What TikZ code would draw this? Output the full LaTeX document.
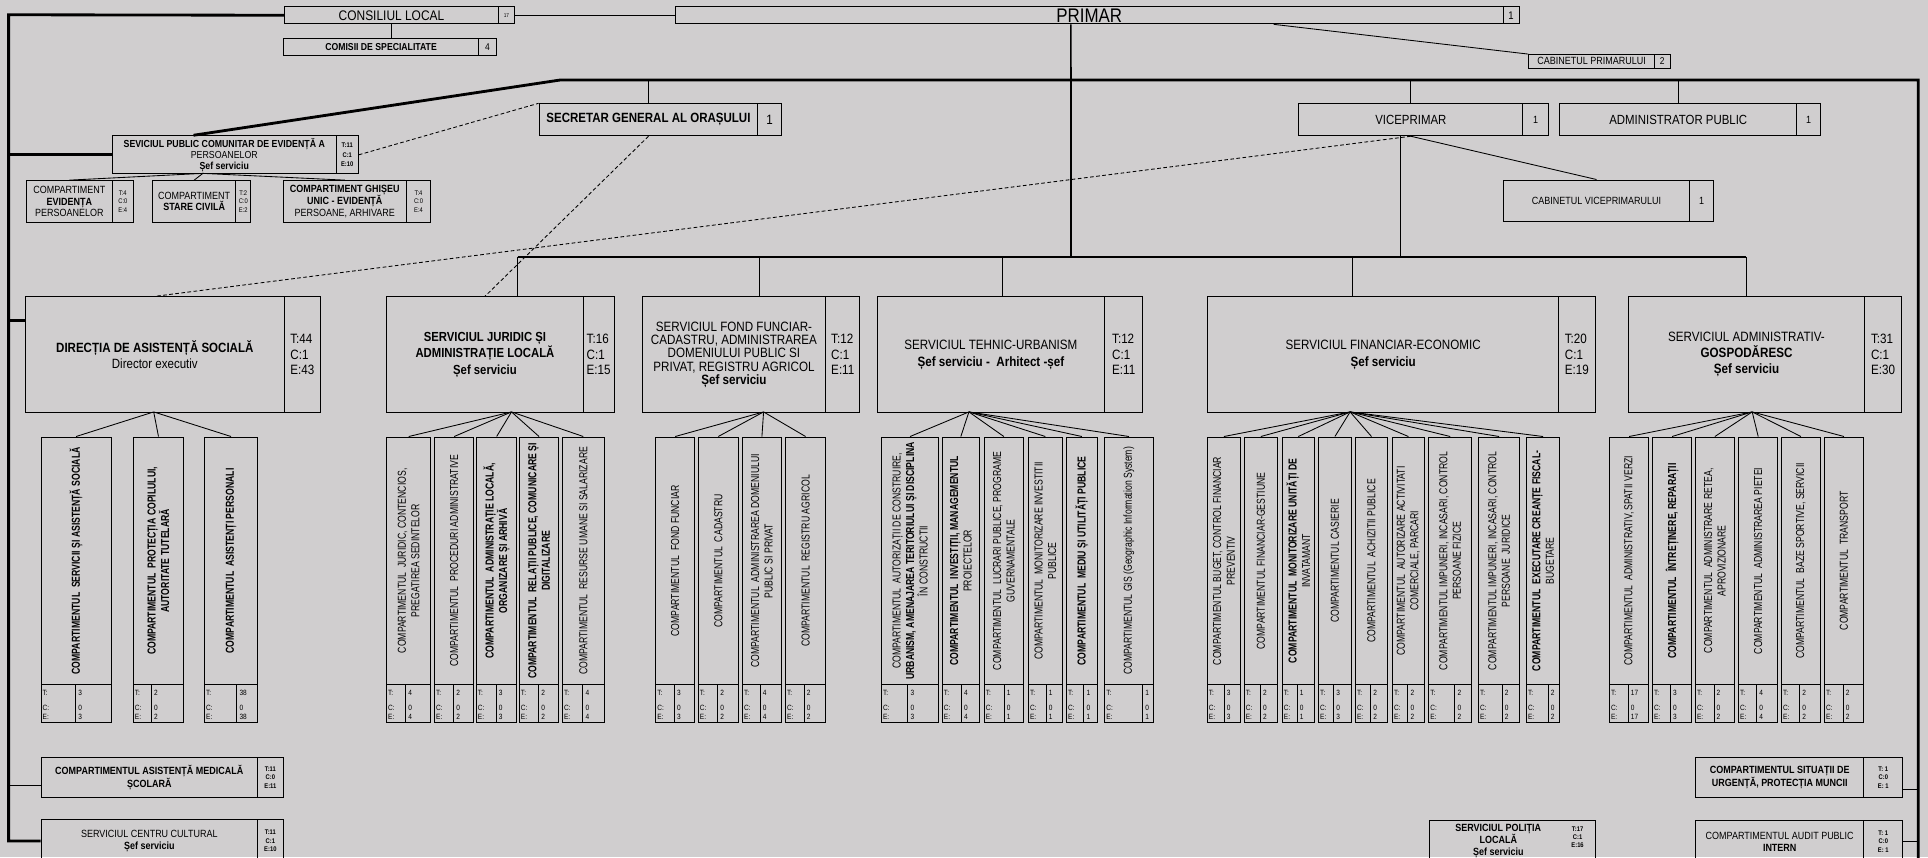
\documentclass[tikz,border=0pt]{standalone}
\usepackage{fontspec}
\setmainfont{Liberation Sans}[FakeStretch=0.86]
\newfontfamily\vnarrow{Liberation Sans}[FakeStretch=0.75]
\usetikzlibrary{calc}

\newcommand{\setsz}[2]{\fontsize{#1}{#2}\selectfont}
\definecolor{sheet}{RGB}{208,206,207}

\tikzset{
  box/.style={draw, line width=0.8pt, inner sep=0pt, anchor=north west},
  comp/.style={draw, line width=0.8pt, inner sep=0pt, anchor=north west, minimum height=201.5},
  cell/.style={draw, line width=0.8pt, inner sep=0pt, anchor=north west, minimum height=30.5},
  vtext/.style={rotate=90, align=center, inner sep=0pt, font=\vnarrow\setsz{9.4}{11}},
  tce/.style={anchor=west, inner sep=0pt, font=\setsz{6.2}{6.5}},
  link/.style={line width=0.7pt},
  heavy/.style={line width=2.3pt},
  bus/.style={line width=1.8pt},
  dashlink/.style={line width=0.7pt, dash pattern=on 3pt off 2pt},
}

% one vertical compartment: name, left, right, divider, count, text, fan point
\newcommand{\compcol}[7]{%
  \node[comp, minimum width={#3-#2}] (#1) at (#2,355) {};
  \node[vtext] (#1t) at (#1) {#6};
  \node[cell, minimum width={#3-#2}] (#1b) at (#2,556.5) {};
  \pgfmathsetmacro{\dvx}{#2+#4*(#3-#2)}
  \draw[link] (\dvx,556.5) -- (\dvx,587);
  \node[tce] (#1T) at (#2+1.5,563.5) {T:};
  \node[tce] (#1C) at (#2+1.5,575.5) {C:};
  \node[tce] (#1E) at (#2+1.5,583.2) {E:};
  \node[tce] (#1Tv) at (\dvx+2,563.5) {#5};
  \node[tce] (#1Cv) at (\dvx+2,575.5) {0};
  \node[tce] (#1Ev) at (\dvx+2,583.2) {#5};
  \draw[link] (#7) -- (#1.north);
}

\begin{document}
\begin{tikzpicture}[x=1pt, y=-1pt]
        \fill[sheet] (0,0) rectangle (1568,697);
        \useasboundingbox (0,0) rectangle (1568,697);

        % Top row:
        \node[box, minimum width=174, minimum height=14, font=\setsz{11.3}{12}] (cl) at (231,5) {CONSILIUL LOCAL};
        \node[box, minimum width=13, minimum height=14, font=\setsz{4.5}{5}] (cln) at (405,5) {17};
        \node[box, minimum width=159, minimum height=14, font=\bfseries\setsz{8.2}{9}] (com) at (230,31) {COMISII DE SPECIALITATE};
        \node[box, minimum width=14, minimum height=14, font=\setsz{8}{9}] (comn) at (389,31) {4};
        \node[box, minimum width=673, minimum height=14, font=\setsz{16}{16}] (pr) at (549,5) {PRIMAR};
        \node[box, minimum width=13, minimum height=14, font=\setsz{9}{9}] (prn) at (1222,5) {1};
        \node[box, minimum width=102, minimum height=11, font=\setsz{8.5}{9}] (cp) at (1243,44) {CABINETUL PRIMARULUI};
        \node[box, minimum width=13, minimum height=11, font=\setsz{8}{9}] (cpn) at (1345,44) {2};

        % Second row:
        \node[box, minimum width=182, minimum height=31, align=center, font=\setsz{8.3}{9}] (sp) at (91,110) {\textbf{SEVICIUL PUBLIC COMUNITAR DE EVIDENȚĂ A}\\PERSOANELOR\\\textbf{Șef serviciu}};
        \node[box, minimum width=18, minimum height=31, align=center, font=\bfseries\setsz{5.5}{7.5}] (spn) at (273,110) {T:11\\C:1\\E:10};
        \node[box, minimum width=178, minimum height=26, font=\bfseries\setsz{10.9}{12}] (sec) at (438,84) {SECRETAR GENERAL AL ORAȘULUI};
        \node[box, minimum width=19, minimum height=26, font=\setsz{11}{12}] (secn) at (616,84) {1};
        \node[box, minimum width=182, minimum height=26, font=\setsz{10.8}{12}] (vp) at (1056,84) {VICEPRIMAR};
        \node[box, minimum width=21, minimum height=26, font=\setsz{8.5}{9}] (vpn) at (1238,84) {1};
        \node[box, minimum width=193, minimum height=26, font=\setsz{10.8}{12}] (ap) at (1268,84) {ADMINISTRATOR PUBLIC};
        \node[box, minimum width=19, minimum height=26, font=\setsz{8.5}{9}] (apn) at (1461,84) {1};
        \node[box, minimum width=152, minimum height=34, font=\setsz{8.5}{9}] (cv) at (1222,146) {CABINETUL VICEPRIMARULUI};
        \node[box, minimum width=19, minimum height=34, font=\setsz{8.5}{9}] (cvn) at (1374,146) {1};

        % Compartments of the public service:
        \node[box, minimum width=70, minimum height=34, align=center, font=\setsz{8.5}{9.5}] (c1) at (21,146.5) {COMPARTIMENT\\\textbf{EVIDENȚA}\\PERSOANELOR};
        \node[box, minimum width=17, minimum height=34, align=center, font=\setsz{5.5}{7}] (c1n) at (91,146.5) {T:4\\C:0\\E:4};
        \node[box, minimum width=68, minimum height=34, align=center, font=\setsz{8.5}{9.5}] (c2) at (123.5,146.5) {COMPARTIMENT\\\textbf{STARE CIVILĂ}};
        \node[box, minimum width=12, minimum height=34, align=center, font=\setsz{5.5}{7}] (c2n) at (191.5,146.5) {T:2\\C:0\\E:2};
        \node[box, minimum width=100, minimum height=34, align=center, font=\setsz{8.5}{9.5}] (c3) at (230,146.5) {\textbf{COMPARTIMENT GHIȘEU}\\\textbf{UNIC - EVIDENȚĂ}\\PERSOANE, ARHIVARE};
        \node[box, minimum width=20, minimum height=34, align=center, font=\setsz{5.5}{7}] (c3n) at (330,146.5) {T:4\\C:0\\E:4};

        % Services:
        \node[box, minimum width=211, minimum height=94, align=center, font=\setsz{10.9}{13.4}] (dir) at (20,241) {\textbf{DIRECȚIA DE ASISTENȚĂ SOCIALĂ}\\Director executiv};
        \node[box, minimum width=29, minimum height=94, align=left, font=\setsz{11}{12.5}] (dirn) at (231,241) {T:44\\C:1\\E:43};
        \node[box, minimum width=160, minimum height=94, align=center, font=\bfseries\setsz{10.7}{13.5}] (jur) at (314,241) {SERVICIUL JURIDIC ȘI\\ADMINISTRAȚIE LOCALĂ\\Șef serviciu};
        \node[box, minimum width=25, minimum height=94, align=left, font=\setsz{11}{12.5}] (jurn) at (474,241) {T:16\\C:1\\E:15};
        \node[box, minimum width=149, minimum height=94, align=center, font=\setsz{11}{10.8}] (fond) at (522,241) {SERVICIUL FOND FUNCIAR-\\CADASTRU, ADMINISTRAREA\\DOMENIULUI PUBLIC SI\\PRIVAT, REGISTRU AGRICOL\\\textbf{Șef serviciu}};
        \node[box, minimum width=28, minimum height=94, align=left, font=\setsz{11}{12.5}] (fondn) at (671,241) {T:12\\C:1\\E:11};
        \node[box, minimum width=185, minimum height=94, align=center, font=\setsz{11}{13.5}] (teh) at (713,241) {SERVICIUL TEHNIC-URBANISM\\\textbf{Șef serviciu -\ \ Arhitect -șef}};
        \node[box, minimum width=31, minimum height=94, align=left, font=\setsz{11}{12.5}] (tehn) at (898,241) {T:12\\C:1\\E:11};
        \node[box, minimum width=285, minimum height=94, align=center, font=\setsz{11}{13.5}] (fin) at (982,241) {SERVICIUL FINANCIAR-ECONOMIC\\\textbf{Șef serviciu}};
        \node[box, minimum width=30, minimum height=94, align=left, font=\setsz{11}{12.5}] (finn) at (1267,241) {T:20\\C:1\\E:19};
        \node[box, minimum width=192, minimum height=94, align=center, font=\setsz{11}{13}] (adm) at (1324,241) {SERVICIUL ADMINISTRATIV-\\\textbf{GOSPODĂRESC}\\\textbf{Șef serviciu}};
        \node[box, minimum width=30, minimum height=94, align=left, font=\setsz{11}{12.5}] (admn) at (1516,241) {T:31\\C:1\\E:30};

        % Bottom boxes:
        \node[box, minimum width=176, minimum height=32, align=center, font=\bfseries\setsz{8.5}{10}] (med) at (33,616) {COMPARTIMENTUL ASISTENȚĂ MEDICALĂ\\ȘCOLARĂ};
        \node[box, minimum width=21, minimum height=32, align=center, font=\bfseries\setsz{5.5}{7}] (medn) at (209,616) {T:11\\C:0\\E:11};
        \node[box, minimum width=176, minimum height=35, align=center, font=\setsz{8.5}{10}] (cc) at (33,666) {SERVICIUL CENTRU CULTURAL\\\textbf{Șef serviciu}};
        \node[box, minimum width=21, minimum height=35, align=center, font=\bfseries\setsz{5.5}{7}] (ccn) at (209,666) {T:11\\C:1\\E:10};
        \node[box, minimum width=137, minimum height=32, align=center, font=\bfseries\setsz{8.5}{10}] (su) at (1378.5,616) {COMPARTIMENTUL SITUAȚII DE\\URGENȚĂ, PROTECȚIA MUNCII};
        \node[box, minimum width=31.5, minimum height=32, align=center, font=\bfseries\setsz{5.5}{7}] (sun) at (1515.5,616) {T: 1\\C:0\\E: 1};
        \node[box, minimum width=137, minimum height=34, align=center, font=\setsz{8.5}{10}] (au) at (1378.5,667) {COMPARTIMENTUL AUDIT PUBLIC\\\textbf{INTERN}};
        \node[box, minimum width=31.5, minimum height=34, align=center, font=\bfseries\setsz{5.5}{7}] (aun) at (1515.5,667) {T: 1\\C:0\\E: 1};
        \node[box, minimum width=135, minimum height=34] (pl) at (1162,667) {};
        \node[align=center, inner sep=0pt, font=\bfseries\setsz{8.5}{9.7}] (plt) at (1218.5,684) {SERVICIUL POLIȚIA\\LOCALĂ\\Șef serviciu};
        \node[align=center, inner sep=0pt, font=\bfseries\setsz{5.5}{6.7}] (pln) at (1283,681) {T:17\\C:1\\E:16};

        % Bus points:
        \coordinate (lt) at (7,12);
        \coordinate (ub1) at (456,65);
        \coordinate (ub2) at (1560,65);
        \coordinate (rb) at (1560,700);
        \coordinate (bJ) at (421,209);
        \coordinate (bF) at (618,209);
        \coordinate (bT) at (815,209);
        \coordinate (bP) at (871,209);
        \coordinate (bFi) at (1100,209);
        \coordinate (bV) at (1139,209);
        \coordinate (bA) at (1420,209);
        \coordinate (fSP) at (165,141);
        \coordinate (fD) at (125,335);
        \coordinate (fJ) at (416,335);
        \coordinate (fF) at (621,335);
        \coordinate (fT) at (788,335);
        \coordinate (fFi) at (1098,335);
        \coordinate (fA) at (1425,335);

        % Heavy lines:
        \draw[heavy] (cl.west) -- (lt) -- (lt |- cc.west) -- (cc.west);
        \draw[heavy] (lt |- sp.west) -- (sp.west);
        \draw[heavy] ([yshift=28pt]dir.west) -- ++(-13,0);
        \draw[heavy] ([xshift=-25pt]sp.north) -- (ub1) -- (ub2) -- (rb);
        \draw[bus] (bJ) -- (bA);
        \draw[line width=1.4pt] ([xshift=-15pt]pr.south) -- (bP);

        % Thin lines:
        \draw[link] (cln.east) -- (pr.west);
        \draw[link] (cl.south) -- (cl.south |- com.north);
        \draw[link] ([xshift=150pt]pr.south) -- (cp.north west);
        \draw[link] (sec.north |- ub1) -- (sec.north);
        \draw[link] (vp.north |- ub1) -- (vp.north);
        \draw[link] (ap.north |- ub1) -- (ap.north);
        \draw[link] (vp.south) -- (cv.north);
        \draw[link] (vp.south -| bV) -- (bV);
        \foreach \b/\s in {bJ/jur, bF/fond, bT/teh, bFi/fin, bA/adm}{%
        \draw[link] (\b) -- (\b |- \s.north);
        }
        \foreach \c in {c1,c2,c3}{%
        \draw[link] (fSP) -- (\c.north);
        }
        \draw[link] ([yshift=-6pt]med.west) -- ++(-26,0);
        \draw[link] ([yshift=-10pt]sun.east) -- ++(12.5,0);
        \draw[link] (aun.east) -- ++(13,0);

        % Dashed lines:
        \draw[dashlink] (vp.south) -- (dir.north);
        \draw[dashlink] (sec.south) -- (jur.north);
        \draw[dashlink] (spn.east) -- (sec.north west);

        % Compartments:
        \foreach \xa/\xb/\dv/\n/\txt [count=\i] in {
          33/90/0.5/3/{\textbf{COMPARTIMENTUL\ \ SERVICII ȘI ASISTENȚĂ SOCIALĂ}},
          108/149/0.37/2/{\textbf{COMPARTIMENTUL\ \ PROTECȚIA COPILULUI,}\\\textbf{AUTORITATE TUTELARĂ}},
          166/209/0.62/38/{\textbf{COMPARTIMENTUL\ \ ASISTENȚI PERSONALI}}}{%
        \compcol{d\i}{\xa}{\xb}{\dv}{\n}{\txt}{fD}
        }
        \foreach \xa/\xb/\dv/\n/\txt [count=\i] in {
          314/350/0.44/4/{COMPARTIMENTUL\ \ JURIDIC, CONTENCIOS,\\PREGATIREA SEDINTELOR},
          353/385/0.5/2/{COMPARTIMENTUL\ \ PROCEDURI ADMINISTRATIVE},
          387/420/0.5/3/{\textbf{COMPARTIMENTUL\ \ ADMINISTRAȚIE LOCALĂ,}\\\textbf{ORGANIZARE ȘI ARHIVĂ}},
          422/454/0.5/2/{\textbf{COMPARTIMENTUL\ \ RELAȚII PUBLICE, COMUNICARE ȘI}\\\textbf{DIGITALIZARE}},
          457/491/0.5/4/{COMPARTIMENTUL\ \ RESURSE UMANE SI SALARIZARE}}{%
        \compcol{j\i}{\xa}{\xb}{\dv}{\n}{\txt}{fJ}
        }
        \foreach \xa/\xb/\dv/\n/\txt [count=\i] in {
          533/564.5/0.49/3/{COMPARTIMENTUL\ \ FOND FUNCIAR},
          567.5/600/0.5/2/{COMPARTIMENTUL\ \ CADASTRU},
          603.5/635/0.47/4/{COMPARTIMENTUL\ \ ADMINISTRAREA DOMENIULUI\\PUBLIC SI PRIVAT},
          638.5/671/0.48/2/{COMPARTIMENTUL\ \ REGISTRU AGRICOL}}{%
        \compcol{f\i}{\xa}{\xb}{\dv}{\n}{\txt}{fF}
        }
        \foreach \xa/\xb/\dv/\n/\txt [count=\i] in {
          716.5/763/0.47/3/{COMPARTIMENTUL\ \ AUTORIZAȚII DE CONSTRUIRE,\\\textbf{URBANISM, AMENAJAREA TERITORIULUI ȘI DISCIPLINA}\\ÎN CONSTRUCTII},
          766/796/0.53/4/{\textbf{COMPARTIMENTUL\ \ INVESTIȚII, MANAGEMENTUL}\\PROIECTELOR},
          800/832/0.52/1/{COMPARTIMENTUL\ \ LUCRARI PUBLICE, PROGRAME\\GUVERNAMENTALE},
          836/863.5/0.54/1/{COMPARTIMENTUL\ \ MONITORIZARE INVESTITII\\PUBLICE},
          867/892/0.58/1/{\textbf{COMPARTIMENTUL\ \ MEDIU ȘI UTILITĂȚI PUBLICE}},
          898/937.5/0.79/1/{COMPARTIMENTUL GIS (Geographic Information System)}}{%
        \compcol{t\i}{\xa}{\xb}{\dv}{\n}{\txt}{fT}
        }
        \foreach \xa/\xb/\dv/\n/\txt [count=\i] in {
          981.5/1008.5/0.52/3/{COMPARTIMENTUL BUGET, CONTROL FINANCIAR\\PREVENTIV},
          1011.5/1038.5/0.5/2/{COMPARTIMENTUL FINANCIAR-GESTIUNE},
          1042.5/1068.5/0.48/1/{\textbf{COMPARTIMENTUL\ \ MONITORIZARE UNITĂȚI DE}\\INVATAMANT},
          1072/1098.5/0.48/3/{COMPARTIMENTUL CASIERIE},
          1102/1128/0.49/2/{COMPARTIMENTUL\ \ ACHIZITII PUBLICE},
          1132/1158/0.5/2/{COMPARTIMENTUL\ \ AUTORIZARE ACTIVITATI\\COMERCIALE, PARCARI},
          1161.5/1196.5/0.62/2/{COMPARTIMENTUL IMPUNERI, INCASARI, CONTROL\\PERSOANE FIZICE},
          1202/1235.5/0.59/2/{COMPARTIMENTUL IMPUNERI, INCASARI, CONTROL\\PERSOANE\ \ JURIDICE},
          1241/1268/0.67/2/{\textbf{COMPARTIMENTUL\ \ EXECUTARE CREANȚE FISCAL-}\\BUGETARE}}{%
        \compcol{e\i}{\xa}{\xb}{\dv}{\n}{\txt}{fFi}
        }
        \foreach \xa/\xb/\dv/\n/\txt [count=\i] in {
          1308.5/1340.5/0.49/17/{COMPARTIMENTUL\ \ ADMINISTRATIV, SPATII VERZI},
          1343.5/1375.5/0.47/3/{\textbf{COMPARTIMENTUL\ \ ÎNTREȚINERE, REPARAȚII}},
          1378.5/1410/0.49/2/{COMPARTIMENTUL\ \ ADMINISTRARE RETEA,\\APROVIZIONARE},
          1413.5/1445.5/0.47/4/{COMPARTIMENTUL\ \ ADMINISTRAREA PIETEI},
          1448.5/1480/0.48/2/{COMPARTIMENTUL\ \ BAZE SPORTIVE, SERVICII},
          1483.5/1515/0.49/2/{COMPARTIMENTUL\ \ TRANSPORT}}{%
        \compcol{a\i}{\xa}{\xb}{\dv}{\n}{\txt}{fA}
        }
\end{tikzpicture}
\end{document}
